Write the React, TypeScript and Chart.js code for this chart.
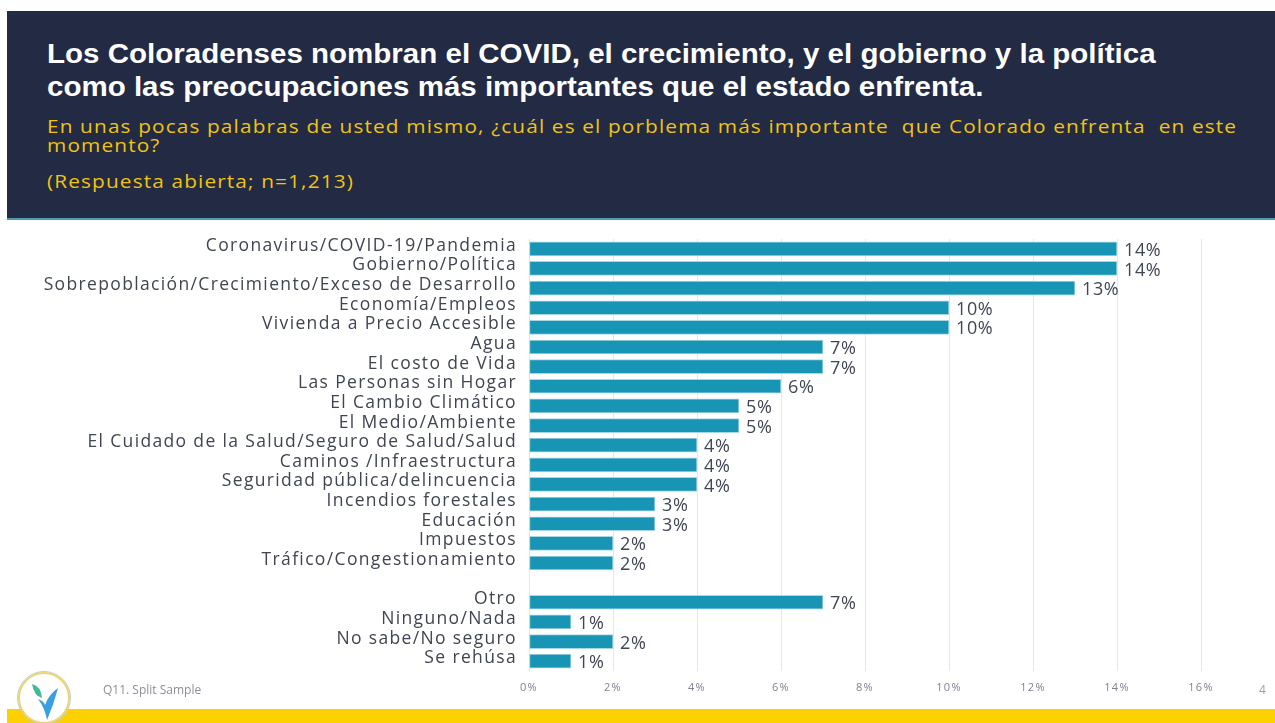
import React, { useEffect, useRef } from "react";
import { Chart, registerables } from "chart.js";

Chart.register(...registerables);

const categories: string[] = [
  "Coronavirus/COVID-19/Pandemia",
  "Gobierno/Política",
  "Sobrepoblación/Crecimiento/Exceso de Desarrollo",
  "Economía/Empleos",
  "Vivienda a Precio Accesible",
  "Agua",
  "El costo de Vida",
  "Las Personas sin Hogar",
  "El Cambio Climático",
  "El Medio/Ambiente",
  "El Cuidado de la Salud/Seguro de Salud/Salud",
  "Caminos /Infraestructura",
  "Seguridad pública/delincuencia",
  "Incendios forestales",
  "Educación",
  "Impuestos",
  "Tráfico/Congestionamiento",
  "",
  "Otro",
  "Ninguno/Nada",
  "No sabe/No seguro",
  "Se rehúsa",
];

const values: (number | null)[] = [
  14, 14, 13, 10, 10, 7, 7, 6, 5, 5, 4, 4, 4, 3, 3, 2, 2, null, 7, 1, 2, 1,
];

const xTicks: number[] = [0, 2, 4, 6, 8, 10, 12, 14, 16];

const LABEL_FONT = "'Open Sans', sans-serif";

const spacingPlugin = {
  id: "spacing",
  beforeDraw(chart: any) {
    chart.ctx.letterSpacing = "1.35px";
  },
  afterDraw(chart: any) {
    chart.ctx.letterSpacing = "0px";
  },
};

const valueLabelPlugin = {
  id: "valueLabels",
  afterDatasetsDraw(chart: any) {
    const ctx = chart.ctx;
    const meta = chart.getDatasetMeta(0);
    ctx.save();
    ctx.letterSpacing = "0.6px";
    ctx.font = `18px ${LABEL_FONT}`;
    ctx.fillStyle = "#414654";
    ctx.textAlign = "left";
    ctx.textBaseline = "middle";
    meta.data.forEach((bar: any, i: number) => {
      const v = values[i];
      if (v === null || v === undefined) return;
      ctx.fillText(`${v}%`, bar.x + 7, bar.y + 2);
    });
    ctx.restore();
  },
};

function BarChart() {
  const ref = useRef<HTMLCanvasElement | null>(null);
  useEffect(() => {
    if (!ref.current) return;
    const chart = new Chart(ref.current, {
      type: "bar",
      data: {
        labels: categories,
        datasets: [
          {
            data: values as any,
            backgroundColor: "#1895b5",
            borderColor: "#a9d6e4",
            borderWidth: 1,
            borderSkipped: false,
            barThickness: 14,
          },
        ],
      },
      options: {
        indexAxis: "y",
        responsive: false,
        animation: false,
        devicePixelRatio: 1,
        layout: { padding: { top: 9, right: 74, bottom: 0, left: 0 } },
        plugins: {
          legend: { display: false },
          tooltip: { enabled: false },
        },
        scales: {
          x: {
            min: 0,
            max: 16,
            afterFit: (s: any) => {
              s.height = 34;
              s.paddingLeft = 0;
              s.paddingRight = 0;
            },
            afterBuildTicks: (s: any) => {
              s.ticks = xTicks.map((v) => ({ value: v }));
            },
            grid: { color: "#e3e7ef", lineWidth: 1, drawTicks: false },
            border: { display: false },
            ticks: {
              padding: 10,
              color: "#7d8290",
              font: { family: LABEL_FONT, size: 11 },
              callback: (v: any) => `${v}%`,
            },
          },
          y: {
            afterFit: (s: any) => {
              s.width = 529;
              s.paddingTop = 0;
              s.paddingBottom = 0;
            },
            grid: { display: false, drawTicks: false },
            border: { display: false },
            ticks: {
              padding: 12,
              labelOffset: -3,
              color: "#404552",
              font: { family: LABEL_FONT, size: 17.5 },
              autoSkip: false,
            },
          },
        },
      },
      plugins: [spacingPlugin, valueLabelPlugin],
    });
    return () => chart.destroy();
  }, []);
  return (
    <canvas
      ref={ref}
      width={1275}
      height={475}
      style={{ position: "absolute", left: 0, top: 230, width: 1275, height: 475 }}
    />
  );
}

export default function App() {
  const sub: React.CSSProperties = {
    position: "absolute",
    left: 47,
    color: "#f1c40f",
    fontFamily: "'Open Sans', sans-serif",
    fontSize: 18.5,
    lineHeight: "20px",
    whiteSpace: "pre",
    letterSpacing: "1px",
    transform: "scaleX(1.125)",
    transformOrigin: "left center",
  };
  const title: React.CSSProperties = {
    position: "absolute",
    left: 47,
    color: "#ffffff",
    fontFamily: "'Liberation Sans', Arial, sans-serif",
    fontWeight: "bold",
    fontSize: 27,
    lineHeight: "33px",
    whiteSpace: "pre",
    transform: "scaleX(1.093)",
    transformOrigin: "left center",
  };
  return (
    <div
      style={{
        position: "fixed",
        left: 0,
        top: 0,
        width: 1275,
        height: 723,
        background: "#ffffff",
        overflow: "hidden",
      }}
    >
      <div
        style={{
          position: "absolute",
          left: 7,
          top: 11,
          width: 1268,
          height: 207,
          background: "#222a44",
          borderBottom: "2px solid #4f98ad",
        }}
      />
      <div style={{ ...title, top: 38 }}>
        Los Coloradenses nombran el COVID, el crecimiento, y el gobierno y la política
      </div>
      <div style={{ ...title, top: 71 }}>
        como las preocupaciones más importantes que el estado enfrenta.
      </div>
      <div style={{ ...sub, top: 116 }}>
        En unas pocas palabras de usted mismo, ¿cuál es el porblema más importante  que Colorado enfrenta  en este
      </div>
      <div style={{ ...sub, top: 135 }}>momento?</div>
      <div style={{ ...sub, top: 171 }}>(Respuesta abierta; n=1,213)</div>

      <BarChart />

      <div
        style={{
          position: "absolute",
          left: 103,
          top: 682,
          color: "#8a8f99",
          fontFamily: "'Open Sans', sans-serif",
          fontSize: 12,
          lineHeight: "16px",
        }}
      >
        Q11. Split Sample
      </div>
      <div
        style={{
          position: "absolute",
          left: 1259,
          top: 682,
          color: "#9aa0aa",
          fontFamily: "'Open Sans', sans-serif",
          fontSize: 12,
          lineHeight: "16px",
        }}
      >
        4
      </div>
      <div
        style={{
          position: "absolute",
          left: 7,
          top: 709,
          width: 1268,
          height: 14,
          background: "#fdd000",
        }}
      />
      <svg
        width={60}
        height={60}
        style={{ position: "absolute", left: 14, top: 668 }}
      >
        <circle cx={30} cy={30} r={26.5} fill="none" stroke="#a9cfe6" strokeWidth={1} />
        <circle cx={30} cy={30} r={25} fill="#ffffff" stroke="#f2d36a" strokeWidth={2} />
        <path d="M 18 16 Q 27 18 28 30 Q 20 28 18 16 Z" fill="#48b894" />
        <path d="M 24 31 Q 30 33 31 37 Q 35 26 44 20 Q 40 36 33 52 Q 31 40 24 31 Z" fill="#3a9fe0" />
      </svg>
    </div>
  );
}
